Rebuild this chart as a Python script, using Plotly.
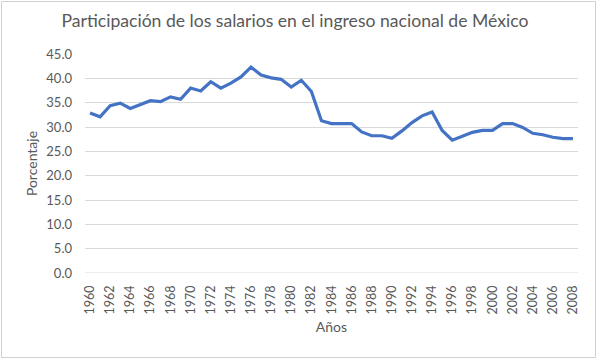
import plotly.graph_objects as go

years = list(range(1960, 2009))
participacion = [
    32.9, 32.1, 34.4, 34.9, 33.8, 34.6, 35.4, 35.2, 36.2, 35.7,
    38.0, 37.4, 39.3, 38.0, 39.0, 40.3, 42.3, 40.7, 40.1, 39.8,
    38.2, 39.6, 37.3, 31.3, 30.7, 30.7, 30.7, 29.0, 28.2, 28.2,
    27.7, 29.2, 30.9, 32.3, 33.1, 29.3, 27.3, 28.1, 28.9, 29.3,
    29.3, 30.7, 30.7, 29.9, 28.7, 28.4, 27.9, 27.6, 27.6,
]
x_ticks = list(range(1960, 2009, 2))
y_ticks = [0, 5, 10, 15, 20, 25, 30, 35, 40, 45]

title_text = "Participación de los salarios en el ingreso nacional de México"
x_title = "Años"
y_title = "Porcentaje"

FONT = "Lato"
GRAY = "#595959"

fig = go.Figure()
fig.add_trace(go.Scatter(
    x=years, y=participacion, mode="lines",
    line=dict(color="#4472C4", width=3.2),
    hoverinfo="x+y",
))

W, H = 600, 363
L, R, T, B = 85, 22, 54, 90

fig.update_layout(
    width=W, height=H,
    margin=dict(l=L, r=R, t=T, b=B, autoexpand=False),
    paper_bgcolor="white", plot_bgcolor="white",
    showlegend=False,
    title=dict(text=title_text, x=295 / W, xref="container", xanchor="center",
               y=1 - 21 / H, yref="container", yanchor="middle",
               font=dict(family=FONT, size=17.6, color=GRAY)),
    font=dict(family=FONT, color=GRAY),
    xaxis=dict(
        range=[1959.5, 2008.5], tickmode="array", tickvals=x_ticks,
        ticktext=[str(v) for v in x_ticks], tickangle=-90,
        showgrid=False, zeroline=False, showline=False, automargin=False,
        ticks="", ticklabelstandoff=9,
        tickfont=dict(family=FONT, size=12.5, color=GRAY),
        title=dict(text=x_title, standoff=8,
                   font=dict(family=FONT, size=14, color=GRAY)),
    ),
    yaxis=dict(
        range=[0, 45], tickmode="array", tickvals=y_ticks,
        ticktext=[f"{v:.1f}" for v in y_ticks],
        showgrid=True, gridcolor="#D9D9D9", gridwidth=1, automargin=False,
        zeroline=False, showline=False, ticks="", ticklabelstandoff=12,
        tickfont=dict(family=FONT, size=13, color=GRAY),
        title=dict(text=y_title, standoff=5,
                   font=dict(family=FONT, size=14, color=GRAY)),
    ),
)

# bottom axis line (category axis baseline)
fig.add_shape(type="line", xref="paper", yref="y", x0=0, x1=1, y0=0, y1=0,
              line=dict(color="#D9D9D9", width=1))

# chart outer border
pw = W - L - R
ph = H - T - B
def px_to_paper_x(px):
    return (px - L) / pw
def px_to_paper_y(py):
    return (H - B - py) / ph
fig.add_shape(type="rect", xref="paper", yref="paper",
              x0=px_to_paper_x(1.5), x1=px_to_paper_x(595.5),
              y0=px_to_paper_y(357.5), y1=px_to_paper_y(1.5),
              line=dict(color="#D0D0D0", width=1), layer="below")

fig.write_html("out.html", config={"displayModeBar": False},
               post_script="document.body.style.margin='0';document.body.style.overflow='hidden';")
